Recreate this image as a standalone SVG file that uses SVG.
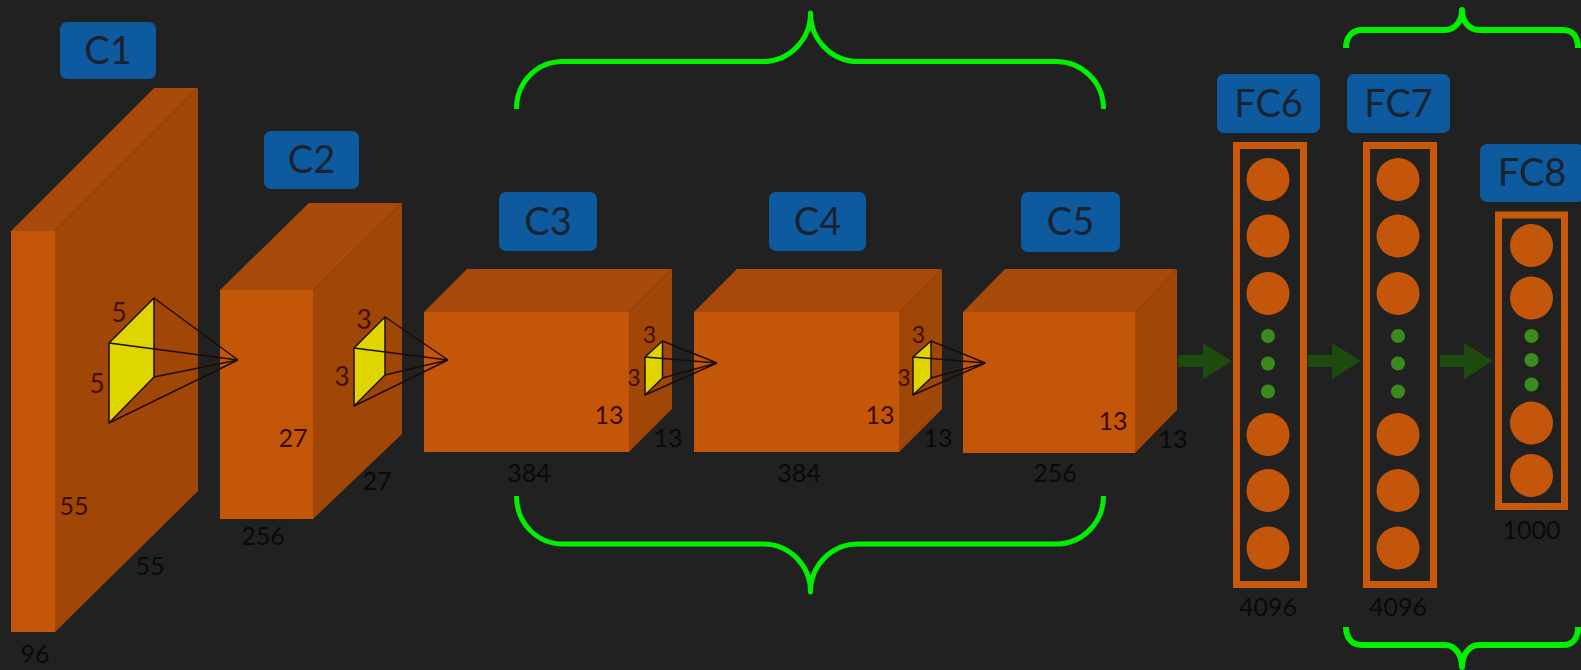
<svg xmlns="http://www.w3.org/2000/svg" width="1581" height="670" viewBox="0 0 1581 670">
  <style>
    .bg { fill: #212121; }
    .front { fill: #c4560a; }
    .top { fill: #a84b0a; }
    .side { fill: #a04606; }
    .tag { fill: #0e5a9f; }
    .tagtxt { font-family: Lato, "Liberation Sans", sans-serif; font-size: 38px; fill: #19222f; text-anchor: middle; }
    .num { font-family: Lato, "Liberation Sans", sans-serif; font-size: 25px; fill: #0a0a0a; text-anchor: middle; }
    .numin { font-family: Lato, "Liberation Sans", sans-serif; font-size: 25px; fill: #3a0c00; text-anchor: middle; }
    .ksz { font-family: Lato, "Liberation Sans", sans-serif; font-size: 26px; fill: #420f00; text-anchor: middle; }
    .ksm { font-family: Lato, "Liberation Sans", sans-serif; font-size: 23px; fill: #420f00; text-anchor: middle; }
    .kface { fill: #dfd500; stroke: #1e0c00; stroke-width: 1.5; stroke-linejoin: round; }
    .kray { stroke: #1e0c00; stroke-width: 1.4; fill: none; }
    .fcbox { fill: none; stroke: #c8580a; stroke-width: 7; }
    .unit { fill: #c4560c; }
    .gap { fill: #3b8a1e; }
    .brace { fill: none; stroke: #00f000; stroke-width: 5; stroke-linejoin: round; }
    .flow { fill: #1d4a0d; }
  </style>

  <rect class="bg" x="0" y="0" width="1581" height="670"/>

  <!-- convolution volumes -->
  <g id="c1">
    <rect class="tag" x="60" y="22" width="96" height="57" rx="7"/>
    <text class="tagtxt" x="108" y="64">C1</text>
    <polygon class="top" points="11,231 55,231 198,88 154,88"/>
    <polygon class="side" points="55,231 198,88 198,491 55,632"/>
    <rect class="front" x="11" y="231" width="44" height="401"/>
    <text class="numin" x="74" y="515">55</text>
    <text class="num" x="150" y="575">55</text>
    <text class="num" x="35" y="663">96</text>
  </g>

  <g id="c2">
    <rect class="tag" x="264" y="131" width="95" height="58" rx="7"/>
    <text class="tagtxt" x="311.5" y="173">C2</text>
    <polygon class="top" points="220,290 313,290 402,203 309,203"/>
    <polygon class="side" points="313,290 402,203 402,434 313,519"/>
    <rect class="front" x="220" y="290" width="93" height="229"/>
    <text class="numin" x="293" y="447">27</text>
    <text class="num" x="377" y="490">27</text>
    <text class="num" x="263" y="545">256</text>
  </g>

  <g id="c3">
    <rect class="tag" x="499" y="192" width="98" height="59" rx="7"/>
    <text class="tagtxt" x="548" y="235">C3</text>
    <polygon class="top" points="424,312 629,312 672,269 467,269"/>
    <polygon class="side" points="629,312 672,269 672,409 629,452"/>
    <rect class="front" x="424" y="312" width="205" height="140"/>
    <text class="numin" x="609" y="424">13</text>
    <text class="num" x="668" y="447">13</text>
    <text class="num" x="529" y="482">384</text>
  </g>

  <g id="c4">
    <rect class="tag" x="769" y="192" width="97" height="59" rx="7"/>
    <text class="tagtxt" x="817.5" y="235">C4</text>
    <polygon class="top" points="694,312 899,312 942,269 737,269"/>
    <polygon class="side" points="899,312 942,269 942,409 899,452"/>
    <rect class="front" x="694" y="312" width="205" height="140"/>
    <text class="numin" x="880" y="424">13</text>
    <text class="num" x="938" y="447">13</text>
    <text class="num" x="799" y="482">384</text>
  </g>

  <g id="c5">
    <rect class="tag" x="1021" y="192" width="99" height="60" rx="7"/>
    <text class="tagtxt" x="1070.5" y="235">C5</text>
    <polygon class="top" points="963,312 1135,312 1177,269 1005,269"/>
    <polygon class="side" points="1135,312 1177,269 1177,410 1135,453"/>
    <rect class="front" x="963" y="312" width="172" height="141"/>
    <text class="numin" x="1113" y="430">13</text>
    <text class="num" x="1173" y="448">13</text>
    <text class="num" x="1055" y="482">256</text>
  </g>

  <!-- receptive-field kernels -->
  <g id="k1">
    <polygon class="kface" points="109,343 154,298 154,377 109,423"/>
    <path class="kray" d="M154,298 L238,360 M109,343 L238,360 M154,377 L238,360 M109,423 L238,360"/>
    <text class="ksz" x="119" y="322">5</text>
    <text class="ksz" x="97" y="393">5</text>
  </g>
  <g id="k2">
    <polygon class="kface" points="354,348 385,317 385,375 354,406"/>
    <path class="kray" d="M385,317 L448,360 M354,348 L448,360 M385,375 L448,360 M354,406 L448,360"/>
    <text class="ksz" x="364" y="329">3</text>
    <text class="ksz" x="342" y="386">3</text>
  </g>
  <g id="k3">
    <polygon class="kface" points="645,357 662.5,341 662.5,378 645,395"/>
    <path class="kray" d="M662.5,341 L717,363 M645,357 L717,363 M662.5,378 L717,363 M645,395 L717,363"/>
    <text class="ksm" x="649.5" y="343">3</text>
    <text class="ksm" x="634" y="386">3</text>
  </g>
  <g id="k4">
    <polygon class="kface" points="913,357 931,341 931,378 913,395"/>
    <path class="kray" d="M931,341 L985.5,363 M913,357 L985.5,363 M931,378 L985.5,363 M913,395 L985.5,363"/>
    <text class="ksm" x="918.5" y="343">3</text>
    <text class="ksm" x="904" y="386">3</text>
  </g>

  <!-- fully connected layers -->
  <g id="fc6">
    <rect class="tag" x="1217" y="74" width="103" height="59" rx="7"/>
    <text class="tagtxt" x="1268.5" y="117">FC6</text>
    <rect class="fcbox" x="1236.5" y="145.5" width="67" height="439"/>
    <circle class="unit" cx="1268" cy="179.5" r="21.5"/>
    <circle class="unit" cx="1268" cy="236" r="21.5"/>
    <circle class="unit" cx="1268" cy="293.5" r="21.5"/>
    <circle class="gap" cx="1268" cy="336" r="7"/>
    <circle class="gap" cx="1268" cy="363.5" r="7"/>
    <circle class="gap" cx="1268" cy="391.5" r="7"/>
    <circle class="unit" cx="1268" cy="434.5" r="21.5"/>
    <circle class="unit" cx="1268" cy="490.5" r="21.5"/>
    <circle class="unit" cx="1268" cy="548" r="21.5"/>
    <text class="num" x="1268" y="616">4096</text>
  </g>

  <g id="fc7">
    <rect class="tag" x="1347" y="74" width="103" height="59" rx="7"/>
    <text class="tagtxt" x="1398.5" y="117">FC7</text>
    <rect class="fcbox" x="1366.5" y="145.5" width="67" height="439"/>
    <circle class="unit" cx="1398" cy="179.5" r="21.5"/>
    <circle class="unit" cx="1398" cy="236" r="21.5"/>
    <circle class="unit" cx="1398" cy="293.5" r="21.5"/>
    <circle class="gap" cx="1398" cy="336" r="7"/>
    <circle class="gap" cx="1398" cy="363.5" r="7"/>
    <circle class="gap" cx="1398" cy="391.5" r="7"/>
    <circle class="unit" cx="1398" cy="434.5" r="21.5"/>
    <circle class="unit" cx="1398" cy="490.5" r="21.5"/>
    <circle class="unit" cx="1398" cy="548" r="21.5"/>
    <text class="num" x="1398" y="616">4096</text>
  </g>

  <g id="fc8">
    <rect class="tag" x="1480" y="144" width="104" height="58" rx="7"/>
    <text class="tagtxt" x="1532" y="186">FC8</text>
    <rect class="fcbox" x="1498.5" y="215" width="66" height="291.5"/>
    <circle class="unit" cx="1531.5" cy="245.5" r="21.5"/>
    <circle class="unit" cx="1531.5" cy="298" r="21.5"/>
    <circle class="gap" cx="1531.5" cy="336" r="7"/>
    <circle class="gap" cx="1531.5" cy="360" r="7"/>
    <circle class="gap" cx="1531.5" cy="384.5" r="7"/>
    <circle class="unit" cx="1531.5" cy="423" r="21.5"/>
    <circle class="unit" cx="1531.5" cy="475.5" r="21.5"/>
    <text class="num" x="1531.5" y="539">1000</text>
  </g>

  <!-- connectors between dense layers -->
  <g id="connectors">
    <polygon class="flow" points="1178,355 1203,355 1203,343 1232,361 1203,379 1203,367 1178,367"/>
    <polygon class="flow" points="1308,355 1332,355 1332,343 1361,361 1332,379 1332,367 1308,367"/>
    <polygon class="flow" points="1440,355 1464,355 1464,343 1493,361 1464,379 1464,367 1440,367"/>
  </g>

  <!-- group braces -->
  <g id="braces">
    <path class="brace" d="M516.5,109 C516.5,82 537,61.5 563,61.5 L763,61.5 C789,61.5 810.5,40 810.5,13 C810.5,40 832,61.5 858,61.5 L1056,61.5 C1082,61.5 1103.5,82 1103.5,109"/>
    <path class="brace" d="M516.5,496 C516.5,523 537,544 563,544 L763,544 C789,544 810.5,565 810.5,592 C810.5,565 832,544 858,544 L1056,544 C1082,544 1103.5,523 1103.5,496"/>
    <path class="brace" style="stroke-width:6" d="M1346,48 C1346,37 1352,30 1362,30 L1445,30 C1455,30 1462,21 1462,10 C1462,21 1469,30 1479,30 L1563,30 C1573,30 1578,37 1578,48"/>
    <path class="brace" style="stroke-width:6" d="M1346,627 C1346,638 1352,645 1362,645 L1445,645 C1455,645 1462,655 1462,667 C1462,655 1469,645 1479,645 L1563,645 C1573,645 1578,638 1578,627"/>
  </g>
</svg>
